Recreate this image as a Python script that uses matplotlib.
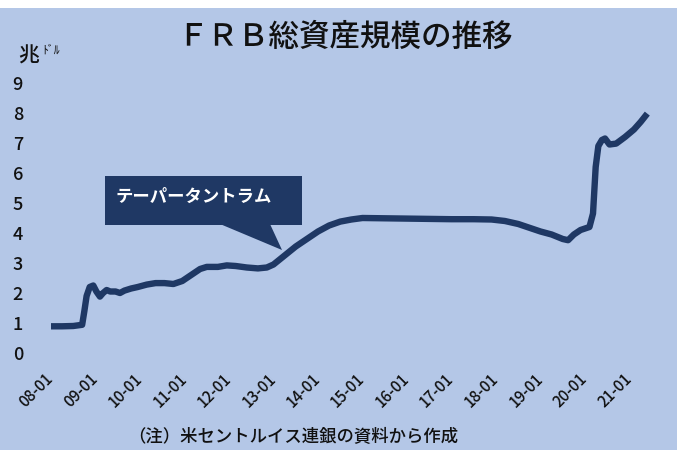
import matplotlib
matplotlib.use("Agg")
import matplotlib.pyplot as plt
from matplotlib.patches import Rectangle, Polygon

plt.rcParams['font.family'] = ['Noto Sans CJK JP', 'DejaVu Sans']

# decimal year, trillion dollars
dates = [2008.00, 2008.25, 2008.50, 2008.70, 2008.75, 2008.80, 2008.87, 2008.95,
         2009.02, 2009.10, 2009.17, 2009.25, 2009.33, 2009.45, 2009.55, 2009.65,
         2009.80, 2009.95, 2010.15, 2010.35, 2010.55, 2010.75, 2010.95, 2011.15,
         2011.35, 2011.50, 2011.75, 2011.95, 2012.15, 2012.40, 2012.65, 2012.85,
         2013.00, 2013.25, 2013.50, 2013.75, 2014.00, 2014.25, 2014.50, 2014.75,
         2015.00, 2015.50, 2016.00, 2016.50, 2017.00, 2017.50, 2017.90, 2018.20,
         2018.50, 2018.80, 2019.00, 2019.25, 2019.50, 2019.62, 2019.75, 2019.90,
         2020.10, 2020.18, 2020.24, 2020.30, 2020.38, 2020.45, 2020.55, 2020.70,
         2020.90, 2021.10, 2021.25, 2021.40]
values = [0.89, 0.89, 0.90, 0.94, 1.40, 1.90, 2.20, 2.25,
          2.05, 1.88, 2.00, 2.10, 2.05, 2.05, 2.00, 2.08,
          2.15, 2.20, 2.28, 2.33, 2.33, 2.30, 2.40, 2.60,
          2.80, 2.87, 2.87, 2.92, 2.90, 2.85, 2.82, 2.85,
          2.95, 3.25, 3.55, 3.80, 4.05, 4.25, 4.38, 4.45,
          4.50, 4.49, 4.48, 4.47, 4.46, 4.46, 4.45, 4.40,
          4.30, 4.15, 4.05, 3.95, 3.80, 3.76, 3.95, 4.10,
          4.20, 4.65, 6.20, 6.90, 7.10, 7.15, 6.95, 6.98,
          7.20, 7.45, 7.70, 7.98]

tick_years = list(range(2008, 2022))
tick_labels = [f"{y % 100:02d}-01" for y in tick_years]
ytick_vals = list(range(0, 10))

title = "ＦＲＢ総資産規模の推移"
note = "（注）米セントルイス連銀の資料から作成"
callout = "テーパータントラム"

W, H = 680, 450
bg = "#B4C7E7"
navy = "#1F3864"
ink = "#111111"

fig = plt.figure(figsize=(6.8, 4.5), dpi=100)
fig.patch.set_facecolor("white")
fig.patches.append(Rectangle((0, 0), 677 / W, 1 - 8 / H, transform=fig.transFigure,
                             facecolor=bg, edgecolor="none", zorder=-10))

# axes placement (pixel based)
left_px, right_px, top_px, bot_px = 30, 660, 70, 360
ax = fig.add_axes([left_px / W, 1 - bot_px / H, (right_px - left_px) / W, (bot_px - top_px) / H])
ax.set_facecolor("none")
px_per_year = 44.5
x0_px = 51
ax.set_xlim(2008 + (left_px - x0_px) / px_per_year, 2008 + (right_px - x0_px) / px_per_year)
ax.set_ylim((353 - bot_px) / 30, (353 - top_px) / 30)
for s in ax.spines.values():
    s.set_visible(False)

ax.plot(dates, values, color=navy, lw=4.6, solid_capstyle="butt", solid_joinstyle="round")

ax.set_yticks(ytick_vals)
ax.set_yticklabels([str(v) for v in ytick_vals], fontsize=13, fontweight="medium", color=ink)
ax.tick_params(axis="y", length=0, pad=5)
ax.set_xticks(tick_years)
ax.set_xticklabels(tick_labels, rotation=45, ha="right", va="center",
                   rotation_mode="anchor", fontsize=11, fontweight="medium", color=ink)
ax.tick_params(axis="x", length=0, pad=12)

# title and unit
fig.text(345 / W, 1 - 37 / H, title, ha="center", va="center", fontsize=22,
         fontweight="medium", color=ink)
fig.text(18 / W, 1 - 56 / H, "兆", ha="left", va="center", fontsize=15, fontweight="medium", color=ink)
fig.text(42 / W, 1 - 50 / H, "ﾄﾞﾙ", ha="left", va="center", fontsize=8.5, color=ink)

# callout box
fig.patches.append(Rectangle((105 / W, 1 - 225 / H), (302 - 105) / W, (225 - 176) / H,
                             transform=fig.transFigure, facecolor=navy, edgecolor="none", zorder=5))
fig.patches.append(Polygon([(220 / W, 1 - 224 / H), (270 / W, 1 - 224 / H), (282 / W, 1 - 250 / H)],
                           closed=True, transform=fig.transFigure, facecolor=navy,
                           edgecolor="none", zorder=5))
fig.text(116 / W, 1 - 197 / H, callout, ha="left", va="center", fontsize=12.5,
         fontweight="bold", color="white", zorder=6)

fig.text(128 / W, 1 - 437 / H, note, ha="left", va="center", fontsize=12.5,
         fontweight="medium", color=ink)

fig.savefig("out.png", dpi=100, facecolor=fig.get_facecolor())
